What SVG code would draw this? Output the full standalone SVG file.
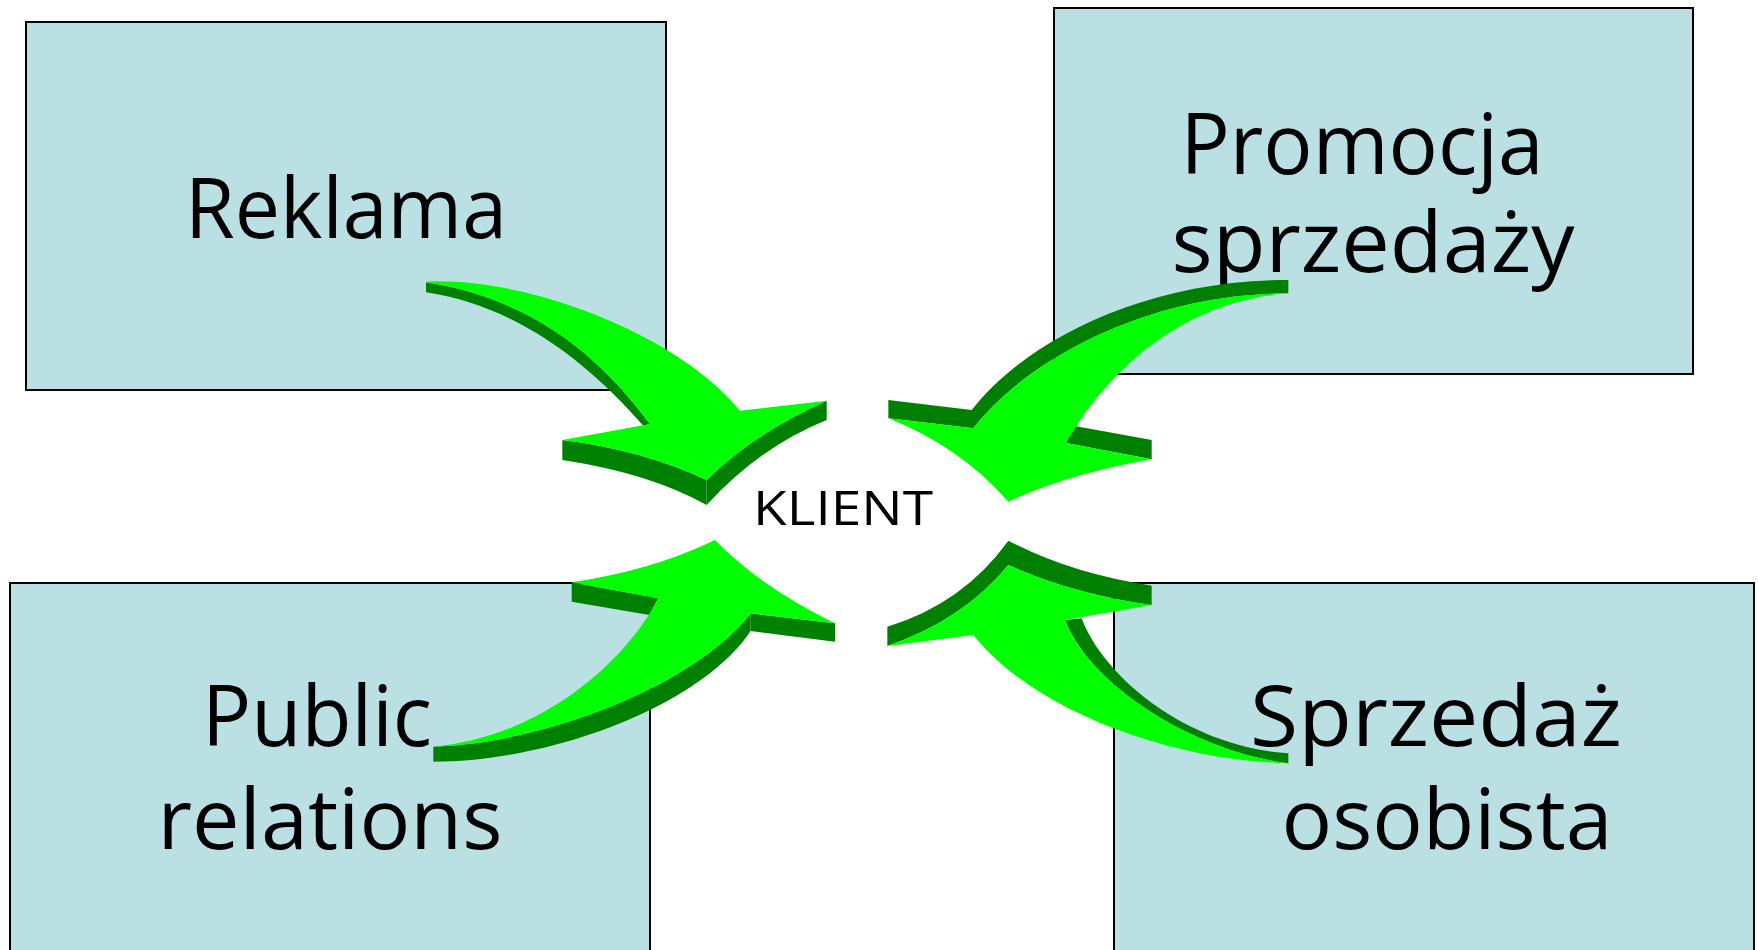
<svg xmlns="http://www.w3.org/2000/svg" width="1758" height="950" viewBox="0 0 1758 950">
<style>
.box{fill:#BBE0E3;stroke:#000;stroke-width:2}
.lbl{font-family:"Comic Sans MS","Open Sans","DejaVu Sans",sans-serif;font-size:85px;fill:#000;text-anchor:middle}
.kl{font-family:"Comic Sans MS","Open Sans","DejaVu Sans",sans-serif;font-size:48px;fill:#000;text-anchor:middle}
.lt{fill:#00FF00}
.dk{fill:#008000}
</style>
<rect width="1758" height="950" fill="#fff"/>
<g id="reklama">
<rect class="box" x="26" y="22" width="640" height="368"/>
<text class="lbl" x="346" y="238" textLength="322" lengthAdjust="spacingAndGlyphs">Reklama</text>
</g>
<g id="promocja">
<rect class="box" x="1054" y="8" width="639" height="366"/>
<text class="lbl" x="1362" y="174" textLength="363" lengthAdjust="spacingAndGlyphs">Promocja</text>
<text class="lbl" x="1373" y="272" textLength="403" lengthAdjust="spacingAndGlyphs">sprzedaży</text>
</g>
<g id="public">
<rect class="box" x="10" y="583" width="640" height="380"/>
<text class="lbl" x="317" y="746" textLength="230" lengthAdjust="spacingAndGlyphs">Public</text>
<text class="lbl" x="330" y="849" textLength="345" lengthAdjust="spacingAndGlyphs">relations</text>
</g>
<g id="sprzedaz">
<rect class="box" x="1114" y="583" width="640" height="380"/>
<text class="lbl" x="1436" y="746" textLength="372" lengthAdjust="spacingAndGlyphs">Sprzedaż</text>
<text class="lbl" x="1447" y="849" textLength="331" lengthAdjust="spacingAndGlyphs">osobista</text>
</g>
<g id="klient">
<text class="kl" x="843" y="525" textLength="180" lengthAdjust="spacingAndGlyphs">KLIENT</text>
</g>
<g id="connectors">
<g id="arrow-tl" transform="translate(410,260) scale(0.33333)">
<path class="dk" d="M48,67 L48,97 C330,140 540,315 700,497 L720,492 C600,330 400,120 48,67 Z"/>
<path class="dk" d="M457,540 L457,600 Q720,640 890,735 L890,660 Q700,570 457,540 Z"/>
<path class="dk" d="M890,660 Q1030,520 1250,422 L1250,480 Q1050,560 890,735 Z"/>
<path class="lt" d="M48,65 C350,50 800,220 990,452 L1250,422 Q1030,520 890,660 Q700,570 457,540 L720,492 C600,330 400,120 48,67 Z"/>
</g>
<g id="arrow-tr" transform="translate(870,260) scale(0.33333)">
<path class="dk" d="M55,420 L305,450 C450,260 800,60 1255,60 L1255,100 C820,100 460,310 310,505 L55,475 Z"/>
<path class="dk" d="M610,497 L845,540 L845,598 L588,549 Z"/>
<path class="lt" d="M55,475 L310,505 C460,310 820,100 1255,100 C950,120 720,320 588,549 L845,598 Q600,640 415,725 Q270,560 55,475 Z"/>
</g>
<g id="arrow-bl" transform="translate(410,520) scale(0.33333)">
<path class="dk" d="M485,187 L745,235 L718,285 L485,245 Z"/>
<path class="dk" d="M70,680 L70,725 C420,725 870,560 1022,333 L1022,280 C850,500 400,670 70,680 Z"/>
<path class="dk" d="M1022,280 L1275,310 L1275,365 L1022,333 Z"/>
<path class="lt" d="M915,60 Q730,150 485,187 L745,235 C650,420 400,650 70,680 C400,670 850,500 1022,280 L1275,310 Q1050,200 915,60 Z"/>
</g>
<g id="arrow-br" transform="translate(870,520) scale(0.33333)">
<path class="dk" d="M52,378 L52,320 Q280,250 415,62 Q600,160 845,197 L845,255 Q600,220 415,135 Q280,300 52,378 Z"/>
<path class="dk" d="M585,300 L635,295 C700,470 950,680 1255,700 L1255,730 C950,690 650,480 585,300 Z"/>
<path class="lt" d="M415,135 Q600,220 845,255 L585,300 C650,480 950,690 1255,730 C880,720 480,560 310,345 L52,378 Q280,300 415,135 Z"/>
</g>
</g>
</svg>
